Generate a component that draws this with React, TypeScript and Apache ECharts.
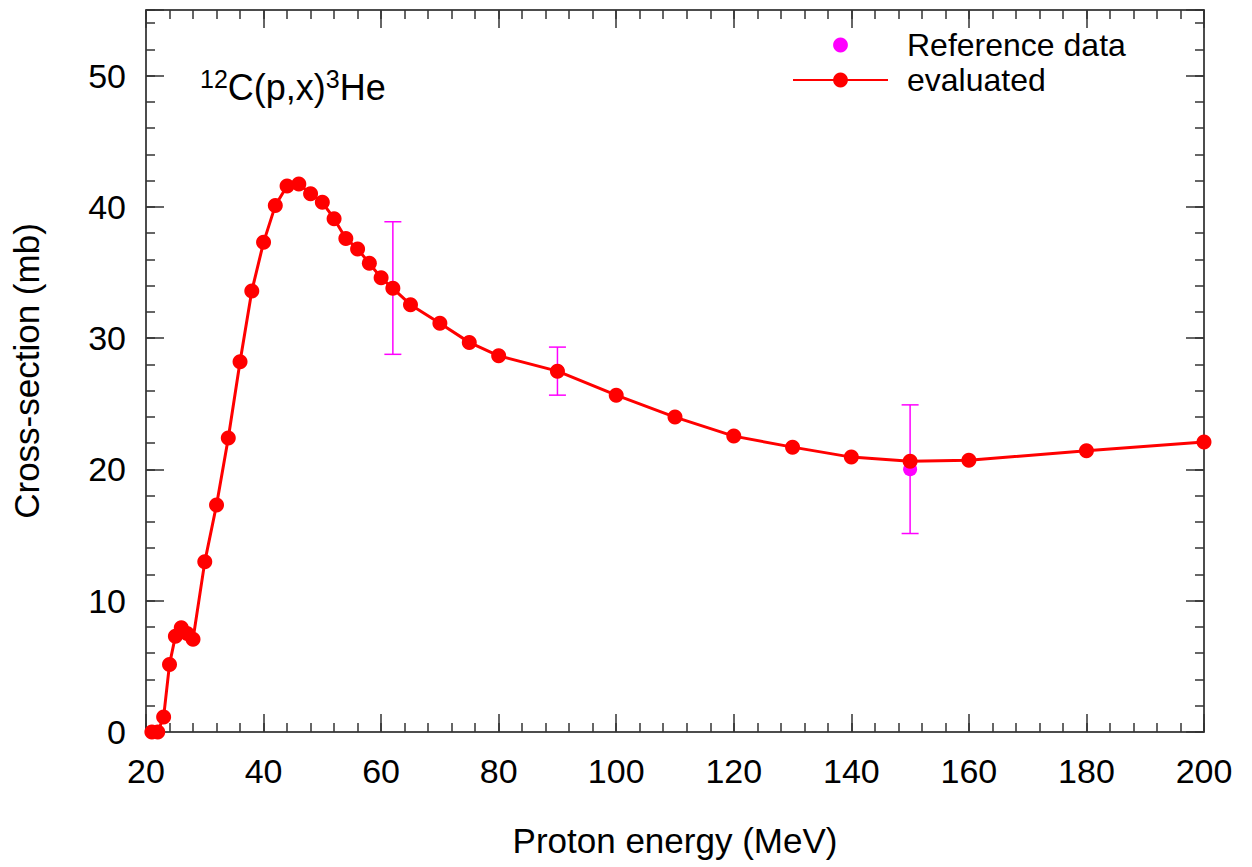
import React, { useEffect, useRef } from "react";
import * as echarts from "echarts";

const energies = [21, 22, 23, 24, 25, 26, 27, 28, 30, 32, 34, 36, 38, 40, 42, 44, 46, 48, 50, 52, 54, 56, 58, 60, 62, 65, 70, 75, 80, 90, 100, 110, 120, 130, 140, 150, 160, 180, 200];
const evaluated = [0, 0, 1.15, 5.15, 7.3, 7.95, 7.5, 7.07, 12.96, 17.3, 22.4, 28.2, 33.6, 37.3, 40.1, 41.6, 41.75, 41.0, 40.35, 39.1, 37.6, 36.8, 35.7, 34.6, 33.8, 32.55, 31.13, 29.68, 28.66, 27.49, 25.66, 23.99, 22.54, 21.7, 20.94, 20.63, 20.7, 21.42, 22.1];

const refEnergies = [62, 90, 150];
const refValues = [33.82, 27.49, 20.02];
const refLow = [28.77, 25.66, 15.12];
const refHigh = [38.87, 29.32, 24.92];

const xTicks = [20, 40, 60, 80, 100, 120, 140, 160, 180, 200];
const yTicks = [0, 10, 20, 30, 40, 50];

const FONT = "'Liberation Sans', Arial, sans-serif";
const LINE = "#111";
const TICK = "#333";

export default function App() {
  const ref = useRef<HTMLDivElement>(null);
  useEffect(() => {
    if (!ref.current) return;
    const chart = echarts.init(ref.current, undefined, { renderer: "svg" });
    const xMin = xTicks[0];
    const xMax = xTicks[xTicks.length - 1];
    const baseX = (pos: string, interval: number, len: number, show: boolean, extra: any = {}) => ({
      type: "value",
      position: pos,
      min: xMin,
      max: xMax,
      interval,
      axisLine: { show, onZero: false, lineStyle: { color: LINE, width: 1.5 } },
      axisTick: { show: true, inside: true, length: len, lineStyle: { color: TICK, width: 1.5 } },
      axisLabel: { show: false },
      splitLine: { show: false },
      ...extra,
    });
    const baseY = (pos: string, interval: number, len: number, show: boolean, extra: any = {}) => ({
      type: "value",
      position: pos,
      min: yTicks[0],
      max: 55,
      interval,
      axisLine: { show, onZero: false, lineStyle: { color: LINE, width: 1.5 } },
      axisTick: { show: true, inside: true, length: len, lineStyle: { color: TICK, width: 1.5 } },
      axisLabel: { show: false },
      splitLine: { show: false },
      ...extra,
    });
    const option: any = {
      animation: false,
      textStyle: { fontFamily: FONT },
      grid: { left: 146, right: 48, top: 10, bottom: 135 },
      xAxis: [
        baseX("bottom", 20, 18, true, {
          axisLabel: { show: true, fontSize: 34, color: "#000", margin: 22, fontFamily: FONT },
          name: "Proton energy (MeV)",
          nameLocation: "middle",
          nameGap: 91,
          nameTextStyle: { fontSize: 35, color: "#000", fontFamily: FONT },
        }),
        baseX("bottom", 4, 9, false),
        baseX("top", 20, 18, true),
        baseX("top", 4, 9, false),
      ],
      yAxis: [
        baseY("left", 10, 18, true, {
          axisLabel: {
            show: true,
            fontSize: 34,
            color: "#000",
            margin: 20,
            fontFamily: FONT,
            formatter: (v: number) => (yTicks.indexOf(v) >= 0 ? String(v) : ""),
          },
          name: "Cross-section (mb)",
          nameLocation: "middle",
          nameGap: 102,
          nameTextStyle: { fontSize: 35, color: "#000", fontFamily: FONT },
        }),
        baseY("left", 2, 9, false),
        baseY("right", 10, 18, true),
        baseY("right", 2, 9, false),
      ],
      legend: {
        orient: "vertical",
        left: 792,
        top: 29,
        padding: 0,
        itemWidth: 95,
        itemHeight: 18.5,
        itemGap: 3,
        data: ["Reference data", "evaluated"],
        textStyle: { fontSize: 32, color: "#000", fontFamily: FONT, lineHeight: 30, padding: [0, 0, 0, 14] },
      },
      graphic: [
        {
          type: "text",
          x: 200,
          y: 67,
          style: {
            text: "{sup|12}{main|C(p,x)}{sup|3}{main|He}",
            align: "left",
            verticalAlign: "top",
            fill: "#000",
            rich: {
              main: { fontSize: 36, lineHeight: 40, fontFamily: FONT, fill: "#000" },
              sup: { fontSize: 25, lineHeight: 24, padding: [0, 0, 16, 0], fontFamily: FONT, fill: "#000" },
            },
          },
          z: 10,
        },
      ],
      series: [
        {
          type: "custom",
          name: "errors",
          xAxisIndex: 0,
          yAxisIndex: 0,
          z: 1,
          data: refEnergies.map((e, i) => [e, refLow[i], refHigh[i]]),
          renderItem: (params: any, api: any) => {
            const x = api.value(0);
            const lo = api.coord([x, api.value(1)]);
            const hi = api.coord([x, api.value(2)]);
            const hw = 8.5;
            const style = { stroke: "#ff00ff", lineWidth: 1.5 };
            return {
              type: "group",
              children: [
                { type: "line", shape: { x1: lo[0], y1: lo[1], x2: hi[0], y2: hi[1] }, style },
                { type: "line", shape: { x1: hi[0] - hw, y1: hi[1], x2: hi[0] + hw, y2: hi[1] }, style },
                { type: "line", shape: { x1: lo[0] - hw, y1: lo[1], x2: lo[0] + hw, y2: lo[1] }, style },
              ],
            };
          },
        },
        {
          type: "line",
          name: "Reference data",
          xAxisIndex: 0,
          yAxisIndex: 0,
          z: 2,
          symbol: "circle",
          symbolSize: 14,
          showAllSymbol: true,
          itemStyle: { color: "#ff00ff" },
          lineStyle: { color: "#ff00ff", width: 0, opacity: 0 },
          data: refEnergies.map((e, i) => [e, refValues[i]]),
        },
        {
          type: "line",
          name: "evaluated",
          xAxisIndex: 0,
          yAxisIndex: 0,
          z: 3,
          symbol: "circle",
          symbolSize: 15,
          showAllSymbol: true,
          itemStyle: { color: "#ff0000" },
          lineStyle: { color: "#ff0000", width: 3 },
          data: energies.map((e, i) => [e, evaluated[i]]),
        },
      ],
    };
    chart.setOption(option);
    return () => chart.dispose();
  }, []);
  return (
    <div
      ref={ref}
      style={{ position: "fixed", left: 0, top: 0, width: 1252, height: 867, background: "#fff" }}
    />
  );
}
